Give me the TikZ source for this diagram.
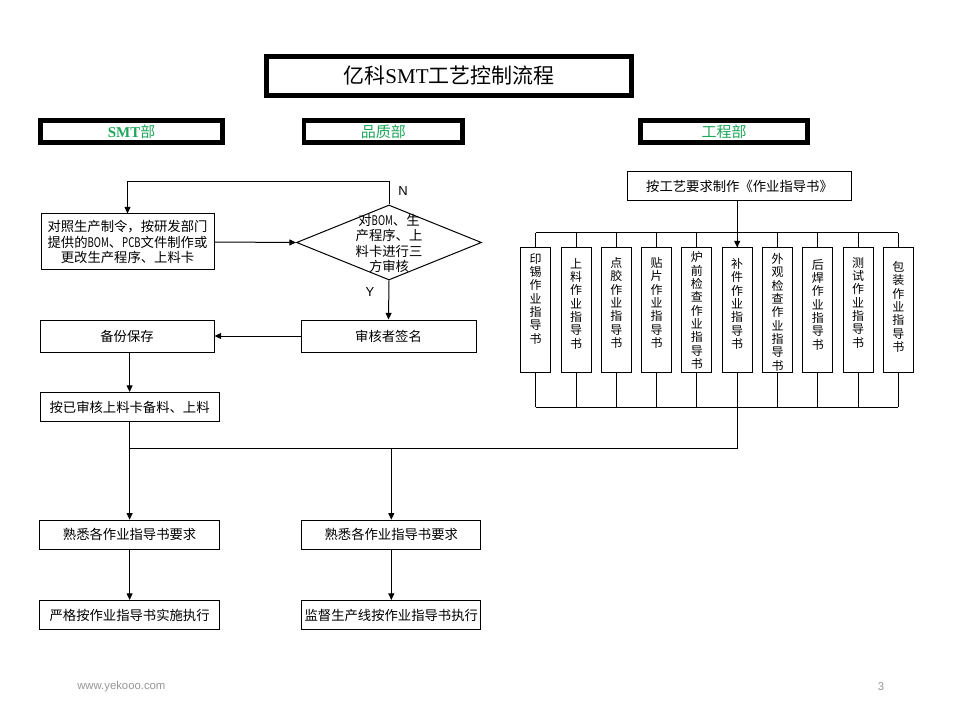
\documentclass[tikz,border=0pt]{standalone}
\usepackage{fontspec}
\usepackage{graphicx}
\newfontfamily\cjk{Noto Sans CJK SC}
\newfontfamily\serifl{Liberation Serif}
\newfontfamily\sansl{Liberation Sans}
\usetikzlibrary{arrows.meta,shapes.geometric}
\definecolor{hdgreen}{RGB}{30,166,90}
\definecolor{footgrey}{RGB}{150,150,150}
\newcommand{\narrowlat}[1]{\scalebox{0.72}[1]{#1}}
\begin{document}
\begin{tikzpicture}[x=0.75pt,y=-0.75pt,
  every node/.style={font=\cjk\fontsize{10pt}{11.6pt}\selectfont, inner sep=0pt},
  box/.style={draw,line width=0.75pt,align=center},
  hdr/.style={draw,line width=3.5pt,minimum height=16.5pt,text=hdgreen,font=\cjk\fontsize{11.25pt}{13pt}\selectfont},
  vbox/.style={draw,line width=0.75pt,minimum width=22.5pt,minimum height=93pt},
  vtext/.style={anchor=north,align=center,font=\cjk\fontsize{9pt}{10pt}\selectfont},
  arr/.style={line width=0.75pt,-{Triangle[length=5pt,width=4.5pt]}},
  ln/.style={line width=0.75pt},
  lab/.style={font=\sansl\fontsize{9.75pt}{11pt}\selectfont}]
\fill[white] (0,0) rectangle (960,720);
\useasboundingbox (0,0) rectangle (960,720);

% title and headers
\node[draw,line width=3.5pt,minimum width=274pt,minimum height=29.3pt,font=\cjk\fontsize{15.75pt}{18pt}\selectfont] (title) at (449,75.9) {亿科{\serifl SMT}工艺控制流程};
\node[hdr,minimum width=136.5pt] (hsmt) at (131.6,131.6) {{\serifl\bfseries SMT}部};
\node[hdr,minimum width=119pt] (hqa) at (383.3,131.6) {品质部};
\node[hdr,minimum width=125.3pt] (heng) at (724.2,131.6) {工程部};

% left / middle flow
\node[box,minimum width=129.75pt,minimum height=42pt] (make) at (127.5,242) {对照生产制令，按研发部门\\提供的\narrowlat{BOM}、\narrowlat{PCB}文件制作或\\更改生产程序、上料卡};
\node[draw,diamond,line width=0.75pt,minimum width=138.75pt,minimum height=56.25pt] (chk) at (389,242.5) {};
\node[align=center] (chkt) at (389,243.5) {对\narrowlat{BOM}、生\\产程序、上\\料卡进行三\\方审核};
\coordinate (looptop) at (389,181.7);
\node[lab] (nlab) at (403,191.5) {N};
\node[lab] (ylab) at (370,292) {Y};
\node[box,minimum width=131.25pt,minimum height=24pt] (sign) at (388.5,336) {审核者签名};
\node[box,minimum width=130.5pt,minimum height=24pt] (bak) at (127,336) {备份保存};
\node[box,minimum width=134.25pt,minimum height=21.75pt] (load) at (129.6,407) {按已审核上料卡备料、上料};
\coordinate (jn) at (129.6,448);
\node[box,minimum width=134.5pt,minimum height=21.75pt] (fam1) at (129.6,534.7) {熟悉各作业指导书要求};
\node[box,minimum width=134.5pt,minimum height=21.75pt] (exec1) at (129.6,615) {严格按作业指导书实施执行};
\node[box,minimum width=134.5pt,minimum height=21.75pt] (fam2) at (391.3,534.7) {熟悉各作业指导书要求};
\node[box,minimum width=134.5pt,minimum height=21.75pt] (sup2) at (391.3,615) {监督生产线按作业指导书执行};

\draw[arr] (make.east) -- (chk.west);
\draw[arr] (chk.north) -- (looptop) -| (make.north);
\draw[arr] (chk.south) -- (sign.north);
\draw[arr] (sign.west) -- (bak.east);
\draw[arr] (bak.south -| load.north) -- (load.north);
\draw[ln] (load.south) -- (jn);
\draw[arr] (jn) -- (fam1.north);
\draw[arr] (fam1.south) -- (exec1.north);
\draw[arr] (fam2.north |- jn) -- (fam2.north);
\draw[arr] (fam2.south) -- (sup2.north);

% right section
\node[box,minimum width=168.3pt,minimum height=21.2pt] (req) at (739.5,186) {按工艺要求制作《作业指导书》};
\coordinate (tbus) at (536,233);
\coordinate (bbus) at (536,407);
\foreach \i/\x in {1/535.7,2/576.0,3/616.3,4/656.6,5/696.9,6/737.2,7/777.5,8/817.8,9/858.1,10/898.4}{
  \node[vbox] (v\i) at (\x,310) {};
  \draw[ln] (v\i.north |- tbus) -- (v\i.north);
  \draw[ln] (v\i.south) -- (v\i.south |- bbus);
}
\node[vtext] (t1) at (535.7,253) {印\\锡\\作\\业\\指\\导\\书};
\node[vtext] (t2) at (576.0,258) {上\\料\\作\\业\\指\\导\\书};
\node[vtext] (t3) at (616.3,257) {点\\胶\\作\\业\\指\\导\\书};
\node[vtext] (t4) at (656.6,257) {贴\\片\\作\\业\\指\\导\\书};
\node[vtext] (t5) at (696.9,251.5) {炉\\前\\检\\查\\作\\业\\指\\导\\书};
\node[vtext] (t6) at (737.2,258) {补\\件\\作\\业\\指\\导\\书};
\node[vtext] (t7) at (777.5,253) {外\\观\\检\\查\\作\\业\\指\\导\\书};
\node[vtext] (t8) at (817.8,259) {后\\焊\\作\\业\\指\\导\\书};
\node[vtext] (t9) at (858.1,257) {测\\试\\作\\业\\指\\导\\书};
\node[vtext] (t10) at (898.4,261) {包\\装\\作\\业\\指\\导\\书};
\draw[ln] (v1.north |- tbus) -- (v10.north |- tbus);
\draw[ln] (v1.south |- bbus) -- (v10.south |- bbus);
\draw[arr] (v6.north |- req.south) -- (v6.north);
\draw[ln] (v6.south) -- (v6.south |- jn) -- (jn);

% footer
\node[font=\sansl\fontsize{8.5pt}{10pt}\selectfont,text=footgrey,anchor=west] (url) at (77,687) {www.yekooo.com};
\node[font=\sansl\fontsize{8.5pt}{10pt}\selectfont,text=footgrey] (pg) at (881,687) {3};
\end{tikzpicture}
\end{document}
